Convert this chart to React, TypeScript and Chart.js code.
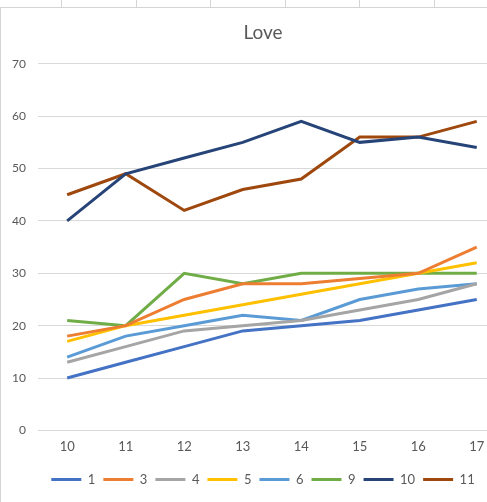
import React, { useEffect, useRef } from "react";
import { Chart, registerables } from "chart.js";

Chart.register(...registerables);

const categories = ["10", "11", "12", "13", "14", "15", "16", "17"];
const seriesNames = ["1", "3", "4", "5", "6", "9", "10", "11"];
const s1 = [10, 13, 16, 19, 20, 21, 23, 25];
const s3 = [18, 20, 25, 28, 28, 29, 30, 35];
const s4 = [13, 16, 19, 20, 21, 23, 25, 28];
const s5 = [17, 20, 22, 24, 26, 28, 30, 32];
const s6 = [14, 18, 20, 22, 21, 25, 27, 28];
const s9 = [21, 20, 30, 28, 30, 30, 30, 30];
const s10 = [40, 49, 52, 55, 59, 55, 56, 54];
const s11 = [45, 49, 42, 46, 48, 56, 56, 59];
const seriesValues = [s1, s3, s4, s5, s6, s9, s10, s11];
const colors = ["#4472C4", "#ED7D31", "#A5A5A5", "#FFC000", "#5B9BD5", "#70AD47", "#264478", "#9E480E"];
const yTicks = [0, 10, 20, 30, 40, 50, 60, 70];

const FONT = "Lato, 'Open Sans', sans-serif";

export default function App() {
  const ref = useRef<HTMLCanvasElement | null>(null);

  useEffect(() => {
    if (!ref.current) return;
    const chart = new Chart(ref.current, {
      type: "line",
      data: {
        labels: categories,
        datasets: seriesNames.map((name, i) => ({
          label: name,
          data: seriesValues[i],
          borderColor: colors[i],
          backgroundColor: colors[i],
          borderWidth: 3,
          pointRadius: 0,
          tension: 0,
          fill: false,
        })),
      },
      options: {
        animation: false,
        responsive: false,
        maintainAspectRatio: false,
        layout: { padding: { left: 0, right: 0, top: 0, bottom: 6 } },
        plugins: {
          title: {
            display: true,
            text: "Love",
            color: "#595959",
            font: { family: FONT, size: 19, weight: "normal" },
            padding: { top: 14, bottom: 20 },
          },
          legend: {
            position: "bottom",
            labels: {
              usePointStyle: true,
              pointStyle: "line",
              pointStyleWidth: 30,
              color: "#595959",
              font: { family: FONT, size: 13 },
              padding: 8,
            },
          },
          tooltip: { enabled: false },
        },
        scales: {
          x: {
            type: "category",
            offset: true,
            grid: { display: false, drawTicks: false },
            border: { display: false },
            ticks: { color: "#595959", font: { family: FONT, size: 13 }, padding: 9 },
            afterFit: (scale: any) => {
              scale.height = scale.height + 1;
            },
          },
          y: {
            min: 0,
            max: 70,
            afterBuildTicks: (scale: any) => {
              scale.ticks = yTicks.map((v) => ({ value: v }));
            },
            grid: { color: "#D9D9D9", lineWidth: 1, drawTicks: false },
            border: { display: false },
            ticks: { color: "#595959", font: { family: FONT, size: 12 }, padding: 12 },
          },
          yRight: {
            type: "linear",
            position: "right",
            display: true,
            grid: { display: false, drawTicks: false },
            border: { display: false },
            ticks: { display: false },
            afterFit: (scale: any) => {
              scale.width = 20;
            },
          },
        },
      },
    });
    return () => chart.destroy();
  }, []);

  const cellLines = [61, 136, 210, 285, 359, 434];

  return (
    <div
      style={{
        position: "fixed",
        left: 0,
        top: 0,
        width: 487,
        height: 502,
        overflow: "hidden",
        background: "#fff",
      }}
    >
      {cellLines.map((x) => (
        <div
          key={x}
          style={{ position: "absolute", left: x, top: 0, width: 1, height: 7, background: "#D4D4D4" }}
        />
      ))}
      <div
        style={{
          position: "absolute",
          left: 0,
          top: 7,
          width: 560,
          height: 520,
          borderTop: "1px solid #D4D4D4",
          borderLeft: "1px solid #D4D4D4",
        }}
      />
      <canvas
        ref={ref}
        width={526}
        height={495}
        style={{ position: "absolute", left: 0, top: 7, width: 526, height: 495 }}
      />
    </div>
  );
}
